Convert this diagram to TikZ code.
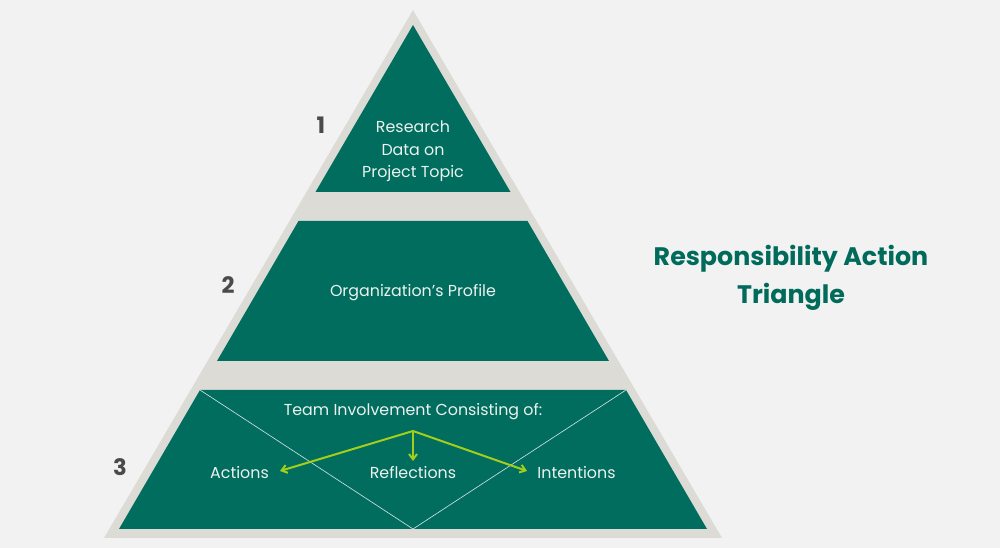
\documentclass[tikz,border=0pt]{standalone}
\usepackage{fontspec}
\setmainfont{Poppins}
\usetikzlibrary{arrows.meta}
\definecolor{bg}{HTML}{F2F2F2}
\definecolor{rim}{HTML}{DCDBD6}
\definecolor{pgreen}{HTML}{006D5F}
\definecolor{tgreen}{HTML}{006B5B}
\definecolor{lime}{HTML}{A3CF1A}
\definecolor{numgray}{HTML}{4A4A4C}
\definecolor{txtw}{HTML}{ECF2EE}
\tikzset{
  body/.style={text=txtw, font=\fontsize{11.9}{17}\selectfont, align=center, inner sep=0pt},
  numlabel/.style={text=numgray, font=\bfseries\fontsize{17}{20}\selectfont, inner sep=0pt},
  titletext/.style={text=tgreen, font=\bfseries\fontsize{19}{28.5}\selectfont, align=center, inner sep=0pt},
  limearrow/.style={draw=lime, line width=1.5pt, -{Straight Barb[length=4pt,width=6pt]}},
  thinline/.style={draw=txtw!85!pgreen, line width=0.5pt}
}
\begin{document}
\begin{tikzpicture}[x=0.75pt,y=-0.75pt]
\useasboundingbox (0,0) rectangle (1000,548);
\fill[bg] (0,0) rectangle (1000,548);
% outer rim
\fill[rim] (413,10) -- (722,538) -- (104,538) -- cycle;
% tiers
\fill[pgreen] (413,25) -- (510.5,192) -- (315.5,192) -- cycle;
\fill[pgreen] (298.5,221) -- (527.5,221) -- (609,361) -- (217,361) -- cycle;
\fill[pgreen] (200,390) -- (626,390) -- (707,529) -- (119,529) -- cycle;
% diagonal lines
\coordinate (tl) at (200,390);
\coordinate (tr) at (626,390);
\coordinate (bm) at (413,529);
\draw[thinline] (tl) -- (bm) -- (tr);
% texts
\node[body] (t1) at (413,151.5) {Research\\Data on\\Project Topic};
\node[body] (t2) at (413,293) {Organization’s Profile};
\node[body] (t3) at (413,412) {Team Involvement Consisting of:};
\node[body] (act) at (239.5,473) {Actions};
\node[body] (ref) at (413,473) {Reflections};
\node[body] (int) at (576.5,473) {Intentions};
% numbers
\node[numlabel] (n1) at (321,125) {1};
\node[numlabel] (n2) at (228,285) {2};
\node[numlabel] (n3) at (120,467) {3};
% arrows
\coordinate (src) at (413,431);
\coordinate (eL) at (280,471);
\coordinate (eM) at (413,461);
\coordinate (eR) at (527,471);
\draw[limearrow] (src) -- (eL);
\draw[limearrow] (src) -- (eM);
\draw[limearrow] (src) -- (eR);
% title
\node[titletext] (title) at (791,278) {Responsibility Action\\Triangle};
\end{tikzpicture}
\end{document}
